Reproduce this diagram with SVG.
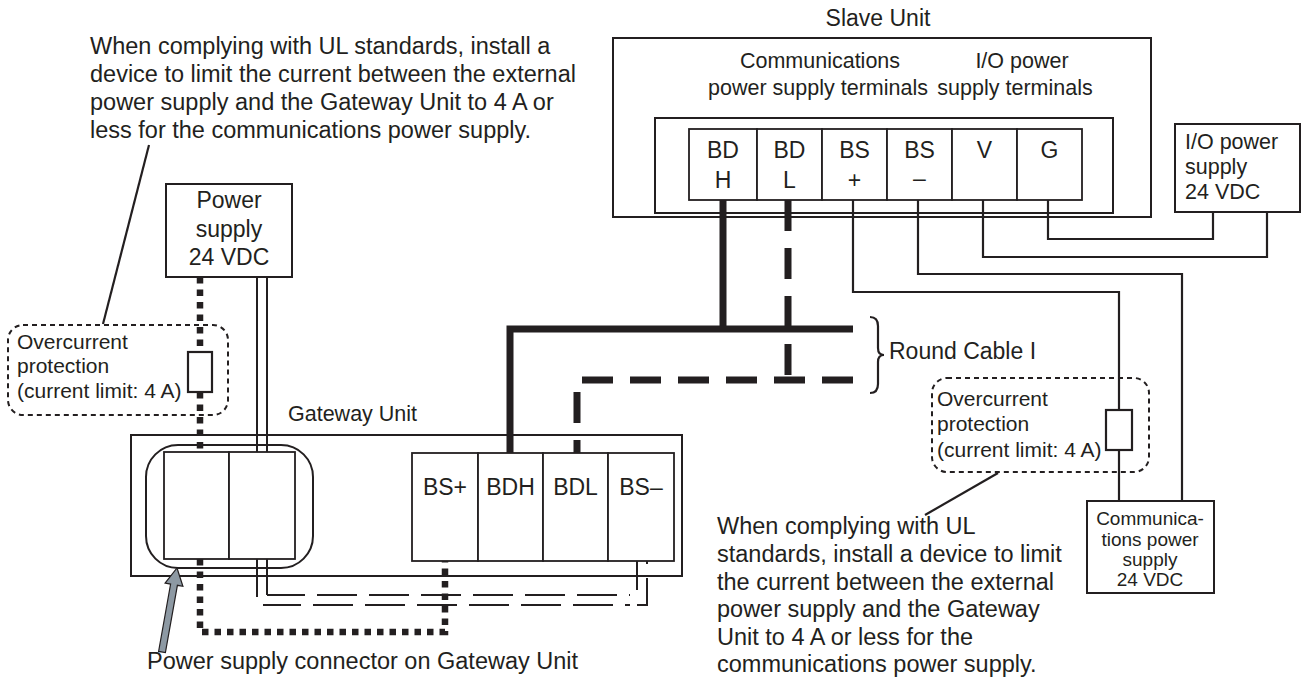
<svg xmlns="http://www.w3.org/2000/svg" width="1308" height="684" viewBox="0 0 1308 684">
<style>
text{font-family:"Liberation Sans",Arial,Helvetica,sans-serif;fill:#231f20}
.a{font-size:23.5px}
.t{font-size:23px}
.h{font-size:21.5px}
.o{font-size:21px}
.s{font-size:19px}
.m{text-anchor:middle}
.box{fill:#fff;stroke:#231f20;stroke-width:2}
.cell{fill:#fff;stroke:#231f20;stroke-width:1.8}
.thin{fill:none;stroke:#231f20;stroke-width:2.2}
.dot{fill:none;stroke:#231f20;stroke-width:6.5;stroke-dasharray:6.5 6}
.dbl{fill:none;stroke:#231f20;stroke-width:2}
.dbld{fill:none;stroke:#231f20;stroke-width:2;stroke-dasharray:40 12;stroke-dashoffset:2}
.thick{fill:none;stroke:#231f20;stroke-width:7}
.thd{fill:none;stroke:#231f20;stroke-width:7;stroke-dasharray:31 17}
.ocp{fill:none;stroke:#231f20;stroke-width:2;stroke-dasharray:5 4}
.fuse{fill:#fff;stroke:#231f20;stroke-width:2.2}
</style>

<g id="note-left">
<text class="a" x="90" y="54">When complying with UL standards, install a</text>
<text class="a" x="90" y="82">device to limit the current between the external</text>
<text class="a" x="90" y="110">power supply and the Gateway Unit to 4 A or</text>
<text class="a" x="90" y="138">less for the communications power supply.</text>
<line class="thin" x1="149" y1="145" x2="103" y2="324"/>
</g>

<g id="slave-unit">
<text class="t m" x="878" y="26">Slave Unit</text>
<rect class="box" x="613" y="38" width="538" height="179"/>
<text class="h m" x="820" y="68">Communications</text>
<text class="h m" x="818" y="95">power supply terminals</text>
<text class="h m" x="1022" y="68">I/O power</text>
<text class="h m" x="1015" y="95">supply terminals</text>
<rect class="box" x="655" y="118" width="458" height="95"/>
<rect class="cell" x="689" y="129" width="68" height="71"/>
<rect class="cell" x="757" y="129" width="65" height="71"/>
<rect class="cell" x="822" y="129" width="65" height="71"/>
<rect class="cell" x="887" y="129" width="65" height="71"/>
<rect class="cell" x="952" y="129" width="65" height="71"/>
<rect class="cell" x="1017" y="129" width="65" height="71"/>
<text class="t m" x="723" y="158">BD</text>
<text class="t m" x="723" y="188">H</text>
<text class="t m" x="789.5" y="158">BD</text>
<text class="t m" x="789.5" y="188">L</text>
<text class="t m" x="854.5" y="158">BS</text>
<text class="t m" x="854.5" y="188">+</text>
<text class="t m" x="919.5" y="158">BS</text>
<text class="t m" x="919.5" y="186">–</text>
<text class="t m" x="984.5" y="158">V</text>
<text class="t m" x="1049.5" y="158">G</text>
</g>

<g id="io-power-supply">
<rect class="box" x="1175" y="124" width="125" height="88"/>
<text class="h" x="1185" y="149">I/O power</text>
<text class="h" x="1185" y="174">supply</text>
<text class="h" x="1185" y="199">24 VDC</text>
</g>

<g id="power-supply">
<rect class="box" x="166" y="184" width="126" height="93"/>
<text class="t m" x="229" y="208">Power</text>
<text class="t m" x="229" y="237">supply</text>
<text class="t m" x="229" y="265">24 VDC</text>
</g>

<g id="gateway-unit">
<text class="h" x="288" y="421">Gateway Unit</text>
<rect class="box" x="131" y="435" width="551" height="141"/>
<rect class="box" x="146" y="445" width="167" height="123" rx="32"/>
<rect class="cell" x="164" y="452" width="65" height="107"/>
<rect class="cell" x="229" y="452" width="66" height="107"/>
<rect class="cell" x="412" y="453" width="66" height="108"/>
<rect class="cell" x="478" y="453" width="65" height="108"/>
<rect class="cell" x="543" y="453" width="65" height="108"/>
<rect class="cell" x="608" y="453" width="66" height="108"/>
<text class="t m" x="445" y="495">BS+</text>
<text class="t m" x="510.5" y="495">BDH</text>
<text class="t m" x="575.5" y="495">BDL</text>
<text class="t m" x="641" y="495">BS–</text>
</g>

<g id="connectors">
<!-- communications power: dotted (+) -->
<path class="dot" d="M200,277 V352"/>
<path class="dot" d="M200,392 V452"/>
<path class="dot" d="M200,559 V632 H445 V561"/>
<!-- communications power: double line (-) -->
<path class="dbl" d="M257,277 V452 M267,277 V452"/>
<path class="dbl" d="M257,559 V597 M267,559 V595"/>
<path class="dbld" d="M267,595 H630"/>
<path class="dbld" d="M263,605 H630"/>
<path class="dbl" d="M637,561 V590 M647,561 V564 M647,578 V605 H637"/>
<!-- round cable -->
<path class="thick" d="M723,200 V329"/>
<path class="thick" d="M510,453 V329 H853"/>
<path class="thd" d="M788,200 V380"/>
<path class="thd" d="M853,380 H577 V453"/>
<!-- slave thin wires -->
<path class="thin" d="M853,200 V292 H1119 V501"/>
<path class="thin" d="M918,200 V274 H1182 V501"/>
<path class="thin" d="M983,200 V257 H1267 V212"/>
<path class="thin" d="M1048,200 V239 H1213 V212"/>
</g>

<g id="round-cable-label">
<path class="thin" d="M870,317 Q878,317 878,326 V348 Q878,355 884,355 Q878,355 878,362 V384 Q878,393 870,393" stroke-width="2"/>
<text class="t" x="889" y="359">Round Cable I</text>
</g>

<g id="ocp-left">
<rect class="ocp" x="8" y="325" width="220" height="90" rx="15"/>
<text class="o" x="17" y="349">Overcurrent</text>
<text class="o" x="17" y="373">protection</text>
<text class="o" x="17" y="398">(current limit: 4 A)</text>
<rect class="fuse" x="188" y="352" width="24" height="40"/>
</g>

<g id="ocp-right">
<rect class="ocp" x="932" y="378" width="217" height="94" rx="15"/>
<text class="o" x="937" y="406">Overcurrent</text>
<text class="o" x="937" y="431">protection</text>
<text class="o" x="937" y="457">(current limit: 4 A)</text>
<rect class="fuse" x="1106" y="410" width="26" height="40"/>
<line class="thin" x1="998" y1="473" x2="925" y2="515"/>
</g>

<g id="comms-power-supply">
<rect class="box" x="1087" y="501" width="127" height="92"/>
<text class="s m" x="1150" y="525">Communica-</text>
<text class="s m" x="1150" y="546">tions power</text>
<text class="s m" x="1150" y="566">supply</text>
<text class="s m" x="1150" y="586">24 VDC</text>
</g>

<g id="note-right">
<text class="a" x="717" y="534">When complying with UL</text>
<text class="a" x="717" y="562">standards, install a device to limit</text>
<text class="a" x="717" y="590">the current between the external</text>
<text class="a" x="717" y="617">power supply and the Gateway</text>
<text class="a" x="717" y="645">Unit to 4 A or less for the</text>
<text class="a" x="717" y="672">communications power supply.</text>
</g>

<g id="connector-callout">
<polygon points="177,568 182.9,586.3 177.4,585.3 165.4,652.6 158.6,651.4 170.6,584.1 165.1,583.1" fill="#8d99a3" stroke="#231f20" stroke-width="1.2"/>
<text class="a" x="147" y="669">Power supply connector on Gateway Unit</text>
</g>
</svg>
